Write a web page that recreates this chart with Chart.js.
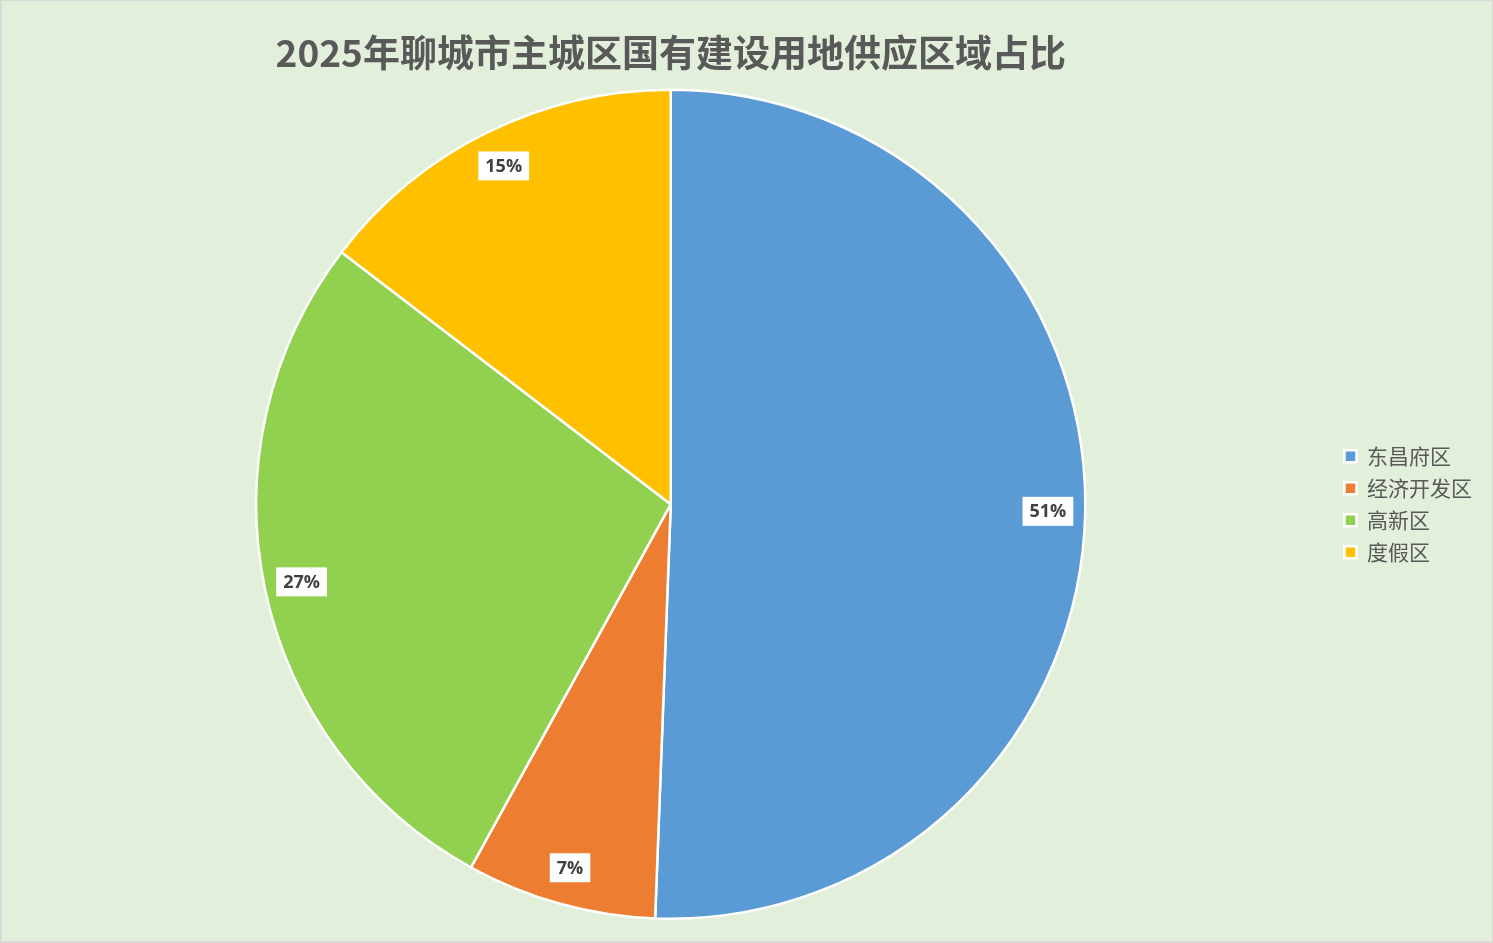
<!DOCTYPE html>
<html>
<head>
<meta charset="utf-8">
<script src="https://cdn.jsdelivr.net/npm/chart.js@4"></script>
<style>
  html, body { margin: 0; padding: 0; background: #e2efda; }
  #wrap { width: 1493px; height: 943px; box-sizing: border-box; border: 2px solid #d9d9d9; border-top-width: 1px; border-right-width: 1px; }
</style>
</head>
<body>
<div id="wrap"><canvas id="pieChart"></canvas></div>
<script>
const titleText = "2025年聊城市主城区国有建设用地供应区域占比";
const regions = ["东昌府区", "经济开发区", "高新区", "度假区"];
const shares = [50.6, 7.4, 27.4, 14.6];
const colors = ["#5b9bd5", "#ed7d31", "#92d050", "#ffc000"];

const boxLabels = {
  id: "boxLabels",
  afterDatasetsDraw(chart) {
    const ctx = chart.ctx;
    const total = shares.reduce((a, b) => a + b, 0);
    chart.getDatasetMeta(0).data.forEach((arc, i) => {
      const mid = (arc.startAngle + arc.endAngle) / 2;
      const r = arc.outerRadius * 0.91;
      const x = arc.x + Math.cos(mid) * r;
      const y = arc.y + Math.sin(mid) * r;
      const text = Math.round(shares[i] / total * 100) + "%";
      ctx.save();
      ctx.font = "bold 18px 'Open Sans', 'Noto Sans', sans-serif";
      const w = ctx.measureText(text).width + 14;
      const h = 29;
      ctx.fillStyle = "#ffffff";
      ctx.fillRect(x - w / 2, y - h / 2, w, h);
      ctx.fillStyle = "#404040";
      ctx.textAlign = "center";
      ctx.textBaseline = "middle";
      ctx.fillText(text, x, y + 1);
      ctx.restore();
    });
  }
};

new Chart(document.getElementById("pieChart"), {
  type: "pie",
  data: {
    labels: regions,
    datasets: [{
      data: shares,
      backgroundColor: colors,
      borderColor: "#ffffff",
      borderWidth: 2.5
    }]
  },
  options: {
    responsive: true,
    maintainAspectRatio: false,
    animation: false,
    layout: { padding: { top: 0, bottom: 21, left: 6, right: 10 } },
    plugins: {
      title: {
        display: true,
        text: titleText,
        fullSize: false,
        color: "#595959",
        font: { size: 37, weight: "bold", family: "'Noto Sans CJK SC', sans-serif" },
        padding: { top: 30, bottom: 13 }
      },
      legend: {
        position: "right",
        fullSize: false,
        labels: {
          color: "#595959",
          boxWidth: 12,
          boxHeight: 12,
          padding: 11,
          font: { size: 21, family: "'Noto Sans CJK SC', sans-serif" }
        }
      },
      tooltip: { enabled: false }
    }
  },
  plugins: [boxLabels]
});
</script>
</body>
</html>
